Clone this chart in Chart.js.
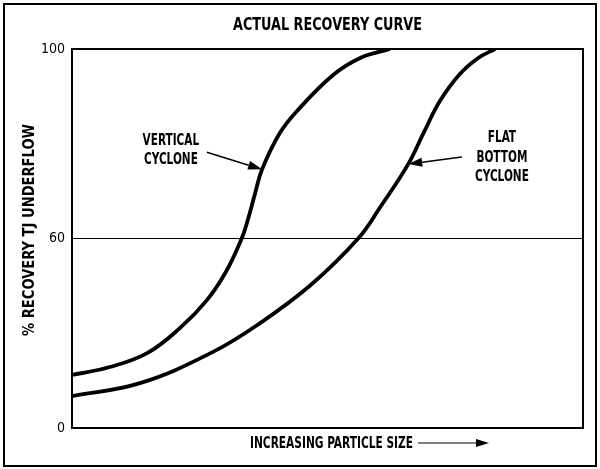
<!DOCTYPE html>
<html>
<head>
<meta charset="utf-8">
<script src="https://cdn.jsdelivr.net/npm/chart.js@4/dist/chart.umd.min.js"></script>
<style>
  html, body { margin: 0; padding: 0; background: #fff; }
  #wrap { width: 600px; height: 469px; position: relative; }
</style>
</head>
<body>
<div id="wrap"><canvas id="graph"></canvas></div>
<script>
// particle size has no units on the original, so x runs 0..100 across the box
const verticalX = [0, 7.4, 14.7, 21.1, 26.4, 30.1, 33.2, 34.4, 35.8, 37.2, 40.7, 44.2, 51.1, 56.4, 62.2];
const verticalY = [16.8, 19.3, 23.7, 31.6, 40.5, 49.4, 60, 63.9, 69.4, 74.6, 82.3, 87.1, 94.5, 98.1, 100];
const flatX = [0, 13.3, 27.6, 36.8, 46.6, 56.0, 60.3, 65.8, 68.9, 72.0, 75.9, 79.5, 82.8];
const flatY = [10.1, 14.2, 24.1, 33.2, 45.1, 60, 66.6, 75.7, 82.5, 89.0, 94.7, 98.1, 100];
const yTicks = [0, 60, 100];

// the printed axis puts 60 half way up, so 0-60 and 60-100 each get half the height
const toPos = v => v <= 60 ? v / 60 * 50 : 50 + (v - 60) / 40 * 50;

const FONT = "'Liberation Sans Narrow', 'DejaVu Sans Condensed', 'Liberation Sans', sans-serif";

const toPoints = (xs, ys) => xs.map((x, i) => ({ x: x, y: toPos(ys[i]) }));

// arrow annotations, anchored in data units
const notes = [
  { lines: ['VERTICAL', 'CYCLONE'], tail: [26.4, 78.2], tip: [37.2, 74.6], dx: -36, dy: [-11, 8] },
  { lines: ['FLAT', 'BOTTOM', 'CYCLONE'], tail: [76.3, 77.2], tip: [65.8, 75.7], dx: 40, dy: [-19, 1, 20] }
];

// the original type is a narrow grotesque, squeeze the installed condensed face to match
const narrowText = (ctx, s, x, y, sx) => {
  ctx.save();
  ctx.translate(x, y);
  ctx.scale(sx, 1);
  ctx.fillText(s, 0, 0);
  ctx.restore();
};

const drawArrow = (ctx, x1, y1, x2, y2, len, half) => {
  const a = Math.atan2(y2 - y1, x2 - x1);
  const bx = x2 - len * Math.cos(a), by = y2 - len * Math.sin(a);
  ctx.beginPath();
  ctx.moveTo(x1, y1);
  ctx.lineTo(bx, by);
  ctx.stroke();
  ctx.beginPath();
  ctx.moveTo(x2, y2);
  ctx.lineTo(bx + half * Math.sin(a), by - half * Math.cos(a));
  ctx.lineTo(bx - half * Math.sin(a), by + half * Math.cos(a));
  ctx.closePath();
  ctx.fill();
};

const decorations = {
  id: 'decorations',
  afterDatasetsDraw(chart) {
    const ctx = chart.ctx;
    const area = chart.chartArea;
    const xs = chart.scales.x, ys = chart.scales.y;
    ctx.save();
    ctx.strokeStyle = '#000';
    ctx.fillStyle = '#000';

    // plot box
    ctx.lineWidth = 2;
    ctx.strokeRect(area.left, area.top, area.right - area.left, area.bottom - area.top);
    // outer frame
    ctx.strokeRect(4, 4, 592, 462);

    // title
    ctx.textAlign = 'center';
    ctx.textBaseline = 'middle';
    ctx.font = 'bold 17px ' + FONT;
    ctx.fillText('ACTUAL RECOVERY CURVE', (area.left + area.right) / 2, 26, 189);

    // y title
    ctx.font = 'bold 16px ' + FONT;
    ctx.save();
    ctx.translate(30, 230);
    ctx.rotate(-Math.PI / 2);
    ctx.fillText('% RECOVERY TJ UNDERFLOW', 0, 0, 212);
    ctx.restore();

    // x title with arrow
    ctx.textAlign = 'left';
    ctx.font = 'bold 16px ' + FONT;
    ctx.fillText('INCREASING PARTICLE SIZE', 250, 444, 163);
    ctx.lineWidth = 1.2;
    drawArrow(ctx, 418, 443, 489, 443, 13, 4);

    // curve labels
    ctx.textAlign = 'center';
    ctx.font = 'bold 15px ' + FONT;
    notes.forEach(n => {
      const tx = xs.getPixelForValue(n.tail[0]), ty = ys.getPixelForValue(toPos(n.tail[1]));
      const px = xs.getPixelForValue(n.tip[0]), py = ys.getPixelForValue(toPos(n.tip[1]));
      n.lines.forEach((s, i) => narrowText(ctx, s, tx + n.dx, ty + n.dy[i], 0.78));
      ctx.lineWidth = 1.5;
      drawArrow(ctx, tx, ty, px, py, 14, 4.5);
    });
    ctx.restore();
  }
};

const lineStyle = {
  borderColor: '#000',
  borderWidth: 3.8,
  pointRadius: 0,
  fill: false,
  tension: 0.4
};

new Chart(document.getElementById('graph'), {
  type: 'line',
  data: {
    datasets: [
      Object.assign({ label: 'Vertical cyclone', data: toPoints(verticalX, verticalY) }, lineStyle),
      Object.assign({ label: 'Flat bottom cyclone', data: toPoints(flatX, flatY) }, lineStyle)
    ]
  },
  options: {
    responsive: true,
    maintainAspectRatio: false,
    animation: false,
    events: [],
    layout: { padding: { left: 6, top: 49, right: 17, bottom: 41 } },
    plugins: { legend: { display: false }, tooltip: { enabled: false } },
    scales: {
      x: {
        type: 'linear', min: 0, max: 100,
        ticks: { display: false },
        grid: { display: false },
        border: { display: false },
        afterFit: s => { s.height = 0; }
      },
      y: {
        type: 'linear', min: 0, max: 100,
        afterBuildTicks: s => { s.ticks = yTicks.map(v => ({ value: toPos(v) })); },
        afterFit: s => { s.width = 66; },
        ticks: {
          color: '#000',
          padding: 7,
          font: { family: FONT, size: 14 },
          callback: (val, i) => String(yTicks[i])
        },
        grid: {
          drawTicks: false,
          lineWidth: 1,
          color: c => (c.tick && c.tick.value === toPos(60)) ? '#000' : 'rgba(0,0,0,0)'
        },
        border: { display: false }
      }
    }
  },
  plugins: [decorations]
});
</script>
</body>
</html>
